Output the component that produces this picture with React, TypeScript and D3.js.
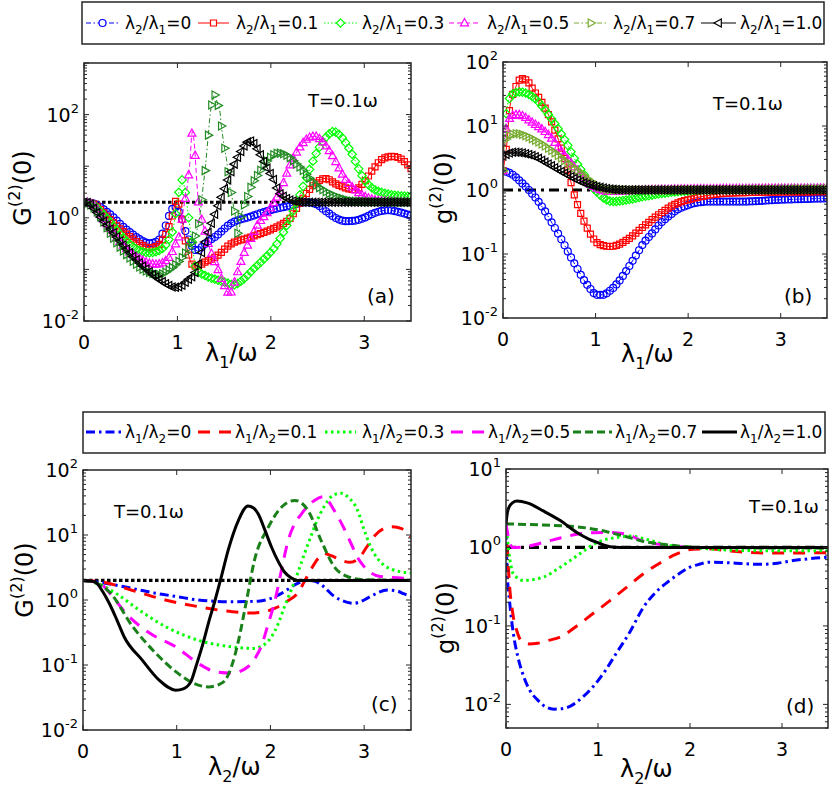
import { useEffect, useRef } from 'react'
import * as d3 from 'd3'

type Pt = [number, number]

const FONT = "'DejaVu Sans', 'Liberation Sans', Arial, sans-serif"

const ratioLabels = ['0', '0.1', '0.3', '0.5', '0.7', '1.0']
const xTicks = [0, 1, 2, 3]

// ---- (a) G2(0) vs lambda1 / omega, markers ----
const aR00: Pt[] = [[0,2],[0.1,1.9],[0.2,1.5],[0.3,1.08],[0.4,0.72],[0.5,0.51],[0.6,0.38],[0.7,0.32],[0.8,0.37],[0.86,0.6],[0.92,1.2],[0.97,1.65],[1.01,1.35],[1.05,0.93],[1.08,0.59],[1.12,0.38],[1.17,0.26],[1.21,0.23],[1.26,0.27],[1.31,0.33],[1.42,0.45],[1.56,0.75],[1.78,1.05],[1.99,1.4],[2.2,1.7],[2.38,2.0],[2.48,1.85],[2.6,1.3],[2.7,0.98],[2.8,0.86],[2.9,0.88],[3.0,1.0],[3.1,1.22],[3.25,1.4],[3.4,1.25],[3.5,1.1]]
const aR01: Pt[] = [[0,2],[0.1,1.85],[0.2,1.3],[0.3,0.85],[0.4,0.58],[0.5,0.42],[0.6,0.31],[0.7,0.26],[0.78,0.28],[0.85,0.4],[0.9,0.6],[0.94,1.0],[0.99,2.2],[1.03,1.45],[1.05,0.93],[1.08,0.4],[1.12,0.19],[1.15,0.13],[1.2,0.115],[1.3,0.14],[1.42,0.18],[1.56,0.3],[1.78,0.42],[1.99,0.58],[2.1,0.72],[2.2,0.95],[2.3,1.8],[2.4,3.3],[2.5,5.0],[2.58,5.8],[2.7,4.5],[2.8,3.8],[2.9,3.5],[3.0,5.0],[3.1,9],[3.2,14],[3.3,15.5],[3.4,13.5],[3.5,9]]
const aR03: Pt[] = [[0,2],[0.1,1.8],[0.2,1.2],[0.3,0.75],[0.4,0.45],[0.5,0.3],[0.6,0.23],[0.7,0.21],[0.8,0.23],[0.89,0.33],[0.96,0.69],[0.99,1.6],[1.02,3.5],[1.045,5.5],[1.08,3.5],[1.12,1.0],[1.16,0.3],[1.2,0.1],[1.31,0.074],[1.42,0.063],[1.53,0.055],[1.6,0.05],[1.7,0.063],[1.81,0.1],[1.92,0.155],[2.06,0.3],[2.2,0.93],[2.3,2.5],[2.4,7.4],[2.5,20],[2.6,38],[2.67,47],[2.75,38],[2.85,20],[3.0,5.5],[3.1,3.6],[3.2,3.05],[3.35,2.7],[3.5,2.6]]
const aR05: Pt[] = [[0,2],[0.1,1.75],[0.2,1.0],[0.3,0.55],[0.4,0.32],[0.5,0.21],[0.6,0.16],[0.7,0.13],[0.78,0.125],[0.86,0.14],[0.92,0.18],[0.97,0.28],[1.0,0.38],[1.03,0.5],[1.06,1.3],[1.1,3.5],[1.13,10],[1.16,47],[1.185,22],[1.2,8],[1.22,2.5],[1.26,0.93],[1.29,0.59],[1.35,0.24],[1.42,0.115],[1.49,0.055],[1.56,0.034],[1.63,0.074],[1.7,0.18],[1.78,0.38],[1.85,0.69],[1.96,1.25],[2.03,1.95],[2.1,3.3],[2.2,10],[2.3,22],[2.4,35],[2.47,38],[2.55,30],[2.65,17],[2.8,5.5],[2.9,3.5],[3.0,2.6],[3.2,2.1],[3.5,2.0]]
const aR07: Pt[] = [[0,2],[0.1,1.6],[0.17,1.08],[0.3,0.44],[0.4,0.25],[0.5,0.16],[0.6,0.11],[0.71,0.086],[0.81,0.08],[0.92,0.1],[1.06,0.18],[1.13,0.28],[1.2,0.51],[1.24,1.1],[1.275,4.0],[1.3,10],[1.33,40],[1.35,100],[1.38,200],[1.4,240],[1.43,160],[1.456,110],[1.47,60],[1.49,33],[1.51,19.6],[1.53,11.7],[1.545,6.4],[1.56,4.1],[1.58,2.8],[1.6,1.7],[1.62,1.07],[1.635,0.69],[1.655,0.42],[1.67,0.8],[1.7,1.45],[1.74,2.3],[1.79,4.1],[1.85,6.4],[1.92,10],[1.99,14.6],[2.08,18],[2.15,17],[2.3,10],[2.5,4.1],[2.7,2.6],[2.9,2.1],[3.5,2.0]]
const aR10: Pt[] = [[0,2],[0.05,1.95],[0.1,1.56],[0.2,0.9],[0.3,0.55],[0.4,0.33],[0.5,0.2],[0.6,0.13],[0.7,0.09],[0.8,0.065],[0.9,0.05],[0.96,0.045],[1.03,0.047],[1.1,0.06],[1.2,0.095],[1.28,0.28],[1.38,0.93],[1.49,3.1],[1.6,10],[1.67,18],[1.78,31],[1.88,18],[1.95,10],[2.03,5.5],[2.08,3.3],[2.15,2.5],[2.25,2.1],[2.4,2.0],[3.5,2.0]]

// ---- (b) g2(0) vs lambda1 / omega, markers ----
const bR00: Pt[] = [[0,2],[0.1,1.75],[0.19,1.35],[0.28,1.0],[0.37,0.7],[0.46,0.45],[0.55,0.27],[0.64,0.16],[0.73,0.091],[0.8,0.06],[0.87,0.04],[0.94,0.029],[1.01,0.023],[1.08,0.023],[1.16,0.027],[1.25,0.037],[1.34,0.057],[1.43,0.092],[1.52,0.148],[1.61,0.21],[1.7,0.3],[1.79,0.39],[1.88,0.49],[1.97,0.56],[2.06,0.62],[2.24,0.66],[2.6,0.66],[2.96,0.7],[3.5,0.74]]
const bR01: Pt[] = [[0,2],[0.04,5],[0.075,20],[0.13,38],[0.2,55],[0.27,49],[0.33,36],[0.4,26],[0.51,13],[0.6,6],[0.66,3.3],[0.72,1.6],[0.76,0.94],[0.8,0.62],[0.87,0.34],[0.94,0.21],[1.05,0.14],[1.16,0.131],[1.34,0.166],[1.52,0.27],[1.7,0.43],[1.88,0.62],[2.06,0.74],[2.42,0.89],[3.0,0.93],[3.5,0.94]]
const bR03: Pt[] = [[0,2],[0.02,8],[0.05,22],[0.11,32],[0.18,34],[0.33,28],[0.51,13.8],[0.69,5.3],[0.8,2.6],[0.87,1.8],[0.94,1.2],[1.02,0.92],[1.09,0.74],[1.19,0.66],[1.34,0.7],[1.52,0.79],[1.88,0.94],[2.5,1.03],[3.5,1.06]]
const bR05: Pt[] = [[0,2],[0.02,6],[0.05,11],[0.1,14.5],[0.16,15],[0.33,11],[0.51,6.8],[0.61,4.4],[0.8,2.05],[0.98,1.13],[1.16,0.94],[1.4,0.98],[2.0,1.03],[3.5,1.06]]
const bR07: Pt[] = [[0,2],[0.02,5],[0.05,6.8],[0.15,7.6],[0.33,6.2],[0.51,4.3],[0.69,2.7],[0.8,2.05],[1.01,1.2],[1.16,1.0],[3.5,1.03]]
const bR10: Pt[] = [[0,3.4],[0.12,3.9],[0.2,3.8],[0.33,3.4],[0.5,2.5],[0.69,1.75],[0.87,1.3],[1.05,1.1],[1.2,1.02],[1.4,1.0],[3.5,1.0]]

// ---- (c) G2(0) vs lambda2 / omega, lines ----
const cR00: Pt[] = [[0,2],[0.2,1.85],[0.53,1.5],[0.8,1.25],[1.0,1.13],[1.23,1.0],[1.59,0.94],[1.87,0.96],[2.0,1.05],[2.12,1.27],[2.29,1.8],[2.4,2.0],[2.47,1.95],[2.57,1.6],[2.66,1.2],[2.75,1.0],[2.89,0.89],[3.0,1.0],[3.1,1.2],[3.25,1.42],[3.35,1.38],[3.42,1.25],[3.5,1.13]]
const cR01: Pt[] = [[0,2],[0.2,1.9],[0.53,1.4],[0.88,1.0],[1.23,0.79],[1.59,0.66],[1.8,0.63],[1.94,0.66],[2.05,0.75],[2.12,0.84],[2.2,1.0],[2.29,1.27],[2.36,1.9],[2.43,2.9],[2.5,4.2],[2.57,5.2],[2.65,4.8],[2.75,4.1],[2.85,3.8],[2.95,4.5],[3.03,6.6],[3.12,10],[3.21,12.6],[3.3,13.4],[3.4,12.5],[3.5,9.4]]
const cR03: Pt[] = [[0,2],[0.1,1.9],[0.35,1.27],[0.6,0.7],[0.88,0.39],[1.23,0.24],[1.59,0.19],[1.8,0.18],[1.92,0.2],[2.01,0.27],[2.08,0.42],[2.15,0.79],[2.22,1.4],[2.29,2.57],[2.36,5],[2.43,9.4],[2.5,17],[2.57,27],[2.66,40],[2.75,44],[2.84,37],[2.93,24],[3.0,12],[3.07,6.6],[3.14,4.4],[3.21,3.45],[3.35,2.8],[3.5,2.6]]
const cR05: Pt[] = [[0,2],[0.18,1.8],[0.3,1.2],[0.46,0.62],[0.71,0.31],[0.99,0.19],[1.23,0.106],[1.41,0.079],[1.59,0.075],[1.76,0.094],[1.84,0.13],[1.9,0.19],[1.97,0.4],[2.05,1.0],[2.12,3.0],[2.19,8.3],[2.26,15],[2.33,21],[2.4,28],[2.47,34],[2.57,39],[2.62,33],[2.68,24],[2.77,14],[2.86,7.4],[2.93,4.5],[3.0,3.26],[3.17,2.3],[3.5,2.15]]
const cR07: Pt[] = [[0,2],[0.15,1.8],[0.28,1.34],[0.53,0.39],[0.78,0.15],[0.99,0.079],[1.23,0.049],[1.34,0.046],[1.45,0.05],[1.52,0.059],[1.59,0.1],[1.66,0.24],[1.74,0.9],[1.83,4.1],[1.98,13.4],[2.12,27],[2.26,34],[2.4,24],[2.54,8.3],[2.68,3.26],[2.82,2.3],[3.0,2.05],[3.5,2.0]]
const cR10: Pt[] = [[0,2],[0.1,1.95],[0.14,1.85],[0.21,1.35],[0.28,0.89],[0.36,0.5],[0.44,0.27],[0.63,0.12],[0.81,0.059],[0.99,0.041],[1.07,0.043],[1.15,0.055],[1.21,0.1],[1.27,0.19],[1.34,0.45],[1.41,1.0],[1.48,2.4],[1.55,5.9],[1.66,17],[1.76,28],[1.82,26],[1.87,21],[1.94,12],[2.01,6.6],[2.08,4.0],[2.15,2.7],[2.22,2.2],[2.29,2.0],[3.5,2.0]]

// ---- (d) g2(0) vs lambda2 / omega, lines ----
const dR00: Pt[] = [[0,2],[0.01,0.56],[0.04,0.2],[0.08,0.08],[0.13,0.04],[0.19,0.023],[0.26,0.015],[0.34,0.0115],[0.43,0.0093],[0.52,0.0087],[0.6,0.0088],[0.7,0.0095],[0.82,0.012],[0.95,0.017],[1.08,0.027],[1.2,0.045],[1.35,0.085],[1.49,0.17],[1.63,0.27],[1.78,0.38],[1.9,0.48],[2.0,0.56],[2.1,0.61],[2.21,0.65],[2.35,0.645],[2.5,0.63],[2.65,0.615],[2.79,0.61],[2.95,0.63],[3.12,0.68],[3.3,0.72],[3.5,0.75]]
const dR01: Pt[] = [[0,2],[0.015,1.0],[0.03,0.46],[0.08,0.13],[0.12,0.085],[0.16,0.066],[0.25,0.059],[0.34,0.06],[0.45,0.065],[0.59,0.072],[0.77,0.1],[0.95,0.145],[1.13,0.21],[1.31,0.31],[1.49,0.46],[1.67,0.63],[1.85,0.82],[2.03,0.95],[2.2,0.96],[2.39,0.91],[2.6,0.87],[2.8,0.85],[3.1,0.85],[3.5,0.86]]
const dR03: Pt[] = [[0,2],[0.03,0.9],[0.08,0.46],[0.19,0.38],[0.3,0.39],[0.41,0.42],[0.59,0.56],[0.77,0.78],[0.99,1.16],[1.2,1.34],[1.35,1.4],[1.49,1.3],[1.6,1.2],[1.71,1.1],[1.9,1.02],[2.1,0.98],[2.39,0.93],[2.8,0.91],[3.5,0.91]]
const dR05: Pt[] = [[0,2],[0.03,1.3],[0.07,1.0],[0.2,1.02],[0.41,1.16],[0.6,1.33],[0.77,1.47],[0.95,1.54],[1.13,1.55],[1.31,1.47],[1.49,1.2],[1.7,1.08],[1.85,1.03],[2.1,1.0],[3.5,1.0]]
const dR07: Pt[] = [[0,2],[0.4,1.93],[0.77,1.83],[1.0,1.68],[1.13,1.55],[1.3,1.38],[1.49,1.2],[1.7,1.1],[1.85,1.05],[2.1,1.0],[3.5,0.98]]
const dR10: Pt[] = [[0,2],[0.015,2.8],[0.03,3.2],[0.07,3.7],[0.12,3.9],[0.23,3.7],[0.41,2.9],[0.59,2.2],[0.77,1.55],[0.9,1.28],[0.99,1.16],[1.13,1.02],[1.25,1.0],[3.5,1.0]]

const BLUE = '#0000ff', RED = '#ff0000', GREEN = '#00ff00', MAGENTA = '#ff00ff', BLACK = '#000000'
const DKGREEN_A = '#238b23', OLIVE = '#77ac30', DKGREEN_L = '#1a801a'

const MARK: Record<string, string> = {
  circle:   'M3.5,0A3.5,3.5 0 1,1 -3.5,0A3.5,3.5 0 1,1 3.5,0Z',
  square:   'M-3,-3H3V3H-3Z',
  diamond:  'M0,-4.2L4.2,0L0,4.2L-4.2,0Z',
  triUp:    'M0,-4.5L4,2.8H-4Z',
  triRight: 'M4.5,0L-2.8,4V-4Z',
  triLeft:  'M-4.5,0L2.8,-4V4Z',
}

type Style = { color: string; dash: string | null; marker?: string; width: number }

const markerStyles = (seven: string): Style[] => [
  { color: BLUE,    dash: '5 2.5 1.5 2.5', marker: 'circle',   width: 1 },
  { color: RED,     dash: null,            marker: 'square',   width: 1 },
  { color: GREEN,   dash: '1.5 2',         marker: 'diamond',  width: 1 },
  { color: MAGENTA, dash: '5 3',           marker: 'triUp',    width: 1 },
  { color: seven,   dash: '5 2.5 1.5 2.5', marker: 'triRight', width: 1 },
  { color: BLACK,   dash: null,            marker: 'triLeft',  width: 1 },
]
const lineStyles: Style[] = [
  { color: BLUE,      dash: '9 4 2.5 4', width: 3 },
  { color: RED,       dash: '12 9',      width: 3 },
  { color: GREEN,     dash: '2.5 3.5',   width: 3 },
  { color: MAGENTA,   dash: '12 9',      width: 3 },
  { color: DKGREEN_L, dash: '8 4',       width: 3 },
  { color: BLACK,     dash: null,        width: 3 },
]

type Panel = {
  id: string; left: number; right: number; top: number; bottom: number
  yDomain: [number, number]; labelExps: number[]
  series: Pt[][]; styles: Style[]
  refValue: number; refDash: string
  yName: string; sub: string; tag: string
  tPos: Pt; tagPos: Pt; xlabelPos: Pt; ylabelPos: Pt
}

const panels: Panel[] = [
  { id: 'a', left: 84, right: 411, top: 63, bottom: 321, yDomain: [1e-2, 1e3], labelExps: [-2, 0, 2],
    series: [aR00, aR01, aR03, aR05, aR07, aR10], styles: markerStyles(DKGREEN_A),
    refValue: 2, refDash: '3.5 2.5', yName: 'G', sub: '1', tag: '(a)',
    tPos: [308, 107], tagPos: [367, 303], xlabelPos: [205, 361], ylabelPos: [31, 188] },
  { id: 'b', left: 503, right: 827, top: 62, bottom: 318, yDomain: [1e-2, 1e2], labelExps: [-2, -1, 0, 1, 2],
    series: [bR00, bR01, bR03, bR05, bR07, bR10], styles: markerStyles(OLIVE),
    refValue: 1, refDash: '10 5 3 5', yName: 'g', sub: '1', tag: '(b)',
    tPos: [713, 110], tagPos: [784, 303], xlabelPos: [621, 362], ylabelPos: [452, 188] },
  { id: 'c', left: 83, right: 411, top: 470, bottom: 730, yDomain: [1e-2, 1e2], labelExps: [-2, -1, 0, 1, 2],
    series: [cR00, cR01, cR03, cR05, cR07, cR10], styles: lineStyles,
    refValue: 2, refDash: '3.5 2.5', yName: 'G', sub: '2', tag: '(c)',
    tPos: [114, 518], tagPos: [371, 711], xlabelPos: [208, 775], ylabelPos: [33, 580] },
  { id: 'd', left: 506, right: 828, top: 469, bottom: 728, yDomain: [0.005, 10], labelExps: [-2, -1, 0, 1],
    series: [dR00, dR01, dR03, dR05, dR07, dR10], styles: lineStyles,
    refValue: 1, refDash: '10 5 3 5', yName: 'g', sub: '2', tag: '(d)',
    tPos: [749, 513], tagPos: [786, 713], xlabelPos: [620, 777], ylabelPos: [454, 618] },
]

// legend layout: [sample start, sample end, text x]
const legendTop = { box: [82, 2, 824, 44], lineY: 23, textY: 29, slots: [[86, 119, 125], [198, 229, 236], [324, 357, 362], [449, 480, 487], [574, 608, 613], [701, 736, 740]] }
const legendBottom = { box: [83, 412, 825, 453], lineY: 432, textY: 438, slots: [[86, 122, 125], [198, 232, 235], [325, 356, 362], [451, 486, 488], [573, 612, 615], [702, 737, 740]] }

function pointsAtX(node: SVGPathElement, xs: number[]): Pt[] {
  const total = node.getTotalLength()
  const n = Math.max(200, Math.ceil(total / 0.5))
  const tbl: Pt[] = []
  for (let i = 0; i <= n; i++) {
    const p = node.getPointAtLength((total * i) / n)
    tbl.push([p.x, p.y])
  }
  const out: Pt[] = []
  let j = 0
  for (const tx of xs) {
    while (j < tbl.length - 2 && tbl[j + 1][0] < tx) j++
    const [x0, y0] = tbl[j]
    const [x1, y1] = tbl[j + 1]
    const t = x1 === x0 ? 0 : Math.max(0, Math.min(1, (tx - x0) / (x1 - x0)))
    out.push([tx, y0 + (y1 - y0) * t])
  }
  return out
}

function drawPanel(svg: d3.Selection<SVGSVGElement, unknown, null, undefined>, p: Panel) {
  const x = d3.scaleLinear().domain([0, 3.5]).range([p.left, p.right])
  const y = d3.scaleLog().domain(p.yDomain).range([p.bottom, p.top])
  const clipId = `clip-${p.id}`
  svg.append('clipPath').attr('id', clipId)
    .append('rect').attr('x', p.left).attr('y', p.top)
    .attr('width', p.right - p.left).attr('height', p.bottom - p.top)

  const plot = svg.append('g').attr('clip-path', `url(#${clipId})`)

  plot.append('line')
    .attr('x1', x(0)).attr('x2', x(3.5)).attr('y1', y(p.refValue)).attr('y2', y(p.refValue))
    .attr('stroke', BLACK).attr('stroke-width', 3.2).attr('stroke-dasharray', p.refDash)

  const line = d3.line<Pt>().x(d => x(d[0])).y(d => y(d[1])).curve(d3.curveMonotoneX)
  const markXs = d3.range(0, 3.5 + 1e-9, 0.035).map(v => x(v))

  p.series.forEach((data, i) => {
    const st = p.styles[i]
    const path = plot.append('path')
      .attr('d', line(data))
      .attr('fill', 'none')
      .attr('stroke', st.color)
      .attr('stroke-width', st.width)
      .attr('stroke-dasharray', st.dash)
    if (st.marker) {
      const pts = pointsAtX(path.node() as SVGPathElement, markXs)
      plot.append('g').selectAll('path').data(pts).enter().append('path')
        .attr('d', MARK[st.marker])
        .attr('transform', d => `translate(${d[0]},${d[1]})`)
        .attr('fill', 'none').attr('stroke', st.color).attr('stroke-width', 1.2)
    }
  })

  // frame + ticks (inside, all four sides)
  const axis = svg.append('g').attr('stroke', '#262626')
  axis.append('rect')
    .attr('x', p.left).attr('y', p.top)
    .attr('width', p.right - p.left).attr('height', p.bottom - p.top)
    .attr('fill', 'none').attr('stroke-width', 1.5)
  xTicks.forEach(t => {
    axis.append('line').attr('x1', x(t)).attr('x2', x(t)).attr('y1', p.bottom).attr('y2', p.bottom - 5).attr('stroke-width', 1)
    axis.append('line').attr('x1', x(t)).attr('x2', x(t)).attr('y1', p.top).attr('y2', p.top + 5).attr('stroke-width', 1)
  })
  const e0 = Math.floor(Math.log10(p.yDomain[0]))
  const e1 = Math.ceil(Math.log10(p.yDomain[1]))
  for (let e = e0; e <= e1; e++) {
    for (let m = 1; m <= 9; m++) {
      const v = m * Math.pow(10, e)
      if (v < p.yDomain[0] * 0.999 || v > p.yDomain[1] * 1.001) continue
      const len = m === 1 ? 5 : 3
      axis.append('line').attr('x1', p.left).attr('x2', p.left + len).attr('y1', y(v)).attr('y2', y(v)).attr('stroke-width', 1)
      axis.append('line').attr('x1', p.right).attr('x2', p.right - len).attr('y1', y(v)).attr('y2', y(v)).attr('stroke-width', 1)
    }
  }

  const txt = svg.append('g').attr('font-family', FONT).attr('fill', '#000')

  xTicks.forEach(t => {
    txt.append('text').attr('x', x(t)).attr('y', p.bottom + 28)
      .attr('text-anchor', 'middle').attr('font-size', 19).text(String(t))
  })
  p.labelExps.forEach(e => {
    const t = txt.append('text').attr('x', p.left - 5).attr('y', y(Math.pow(10, e)) + 7)
      .attr('text-anchor', 'end').attr('font-size', 19)
    t.append('tspan').text('10')
    t.append('tspan').attr('font-size', 13).attr('dy', -9).text(e < 0 ? `-${-e}` : String(e))
  })

  // x label
  const xl = txt.append('text').attr('x', p.xlabelPos[0]).attr('y', p.xlabelPos[1]).attr('font-size', 24)
  xl.append('tspan').text('λ')
  xl.append('tspan').attr('font-size', 16).attr('dy', 7).text(p.sub)
  xl.append('tspan').attr('dy', -7).text('/ω')

  // y label
  const yl = txt.append('text')
    .attr('transform', `translate(${p.ylabelPos[0]},${p.ylabelPos[1]}) rotate(-90)`)
    .attr('text-anchor', 'middle').attr('font-size', 24)
  yl.append('tspan').text(p.yName)
  yl.append('tspan').attr('font-size', 16).attr('dy', -11).text('(2)')
  yl.append('tspan').attr('dy', 11).text('(0)')

  txt.append('text').attr('x', p.tPos[0]).attr('y', p.tPos[1]).attr('font-size', 18).text('T=0.1ω')
  txt.append('text').attr('x', p.tagPos[0]).attr('y', p.tagPos[1]).attr('font-size', 20).text(p.tag)
}

function drawLegend(
  svg: d3.Selection<SVGSVGElement, unknown, null, undefined>,
  lg: typeof legendTop, styles: Style[], a: string, b: string,
) {
  const [x0, y0, x1, y1] = lg.box
  svg.append('rect').attr('x', x0).attr('y', y0).attr('width', x1 - x0).attr('height', y1 - y0)
    .attr('fill', '#fff').attr('stroke', '#262626').attr('stroke-width', 1.5)
  lg.slots.forEach((s, i) => {
    const st = styles[i]
    svg.append('line').attr('x1', s[0]).attr('x2', s[1]).attr('y1', lg.lineY).attr('y2', lg.lineY)
      .attr('stroke', st.color).attr('stroke-width', st.width).attr('stroke-dasharray', st.dash)
    if (st.marker) {
      svg.append('path').attr('d', MARK[st.marker])
        .attr('transform', `translate(${(s[0] + s[1]) / 2},${lg.lineY})`)
        .attr('fill', '#fff').attr('stroke', st.color).attr('stroke-width', 1.2)
    }
    const t = svg.append('text').attr('x', s[2]).attr('y', lg.textY)
      .attr('font-family', FONT).attr('font-size', 17).attr('fill', '#000')
    t.append('tspan').text('λ')
    t.append('tspan').attr('font-size', 12).attr('dy', 5).text(a)
    t.append('tspan').attr('dy', -5).text('/λ')
    t.append('tspan').attr('font-size', 12).attr('dy', 5).text(b)
    t.append('tspan').attr('dy', -5).text('=' + ratioLabels[i])
  })
}

export default function App() {
  const ref = useRef<SVGSVGElement>(null)

  useEffect(() => {
    if (!ref.current) return
    const svg = d3.select(ref.current)
    svg.selectAll('*').remove()
    svg.append('rect').attr('width', 831).attr('height', 788).attr('fill', '#fff')
    panels.forEach(p => drawPanel(svg, p))
    drawLegend(svg, legendTop, markerStyles(OLIVE), '2', '1')
    drawLegend(svg, legendBottom, lineStyles, '1', '2')
  }, [])

  return (
    <div style={{ position: 'absolute', left: 0, top: 0 }}>
      <svg ref={ref} width={831} height={788} style={{ display: 'block' }} />
    </div>
  )
}
